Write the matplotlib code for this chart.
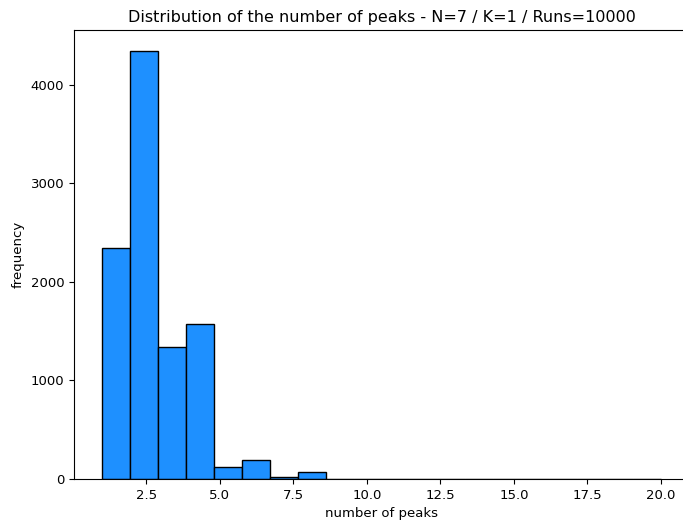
import matplotlib
matplotlib.use("Agg")
import matplotlib.pyplot as plt
import numpy as np

# histogram of peak counts (20 bins between 1 and 20)
bin_edges = np.linspace(1, 20, 21)
counts = [2340, 4340, 1340, 1570, 125, 195, 20, 70, 0, 0,
          0, 0, 0, 0, 0, 0, 0, 0, 0, 0]

centers = (bin_edges[:-1] + bin_edges[1:]) / 2

fig = plt.figure(figsize=(6.83, 5.24), dpi=100)
ax = fig.add_axes([74 / 683, 45 / 524, 615 / 683, 449 / 524])
ax.hist(centers, bins=bin_edges, weights=counts,
        color="dodgerblue", edgecolor="black")
ax.set_title("Distribution of the number of peaks - N=7 / K=1 / Runs=10000", fontsize=11.5)
ax.set_xlabel("number of peaks", fontsize=9.5)
ax.set_ylabel("frequency", fontsize=9.5)
ax.tick_params(labelsize=9.5)
fig.savefig("out.png", dpi=100)
